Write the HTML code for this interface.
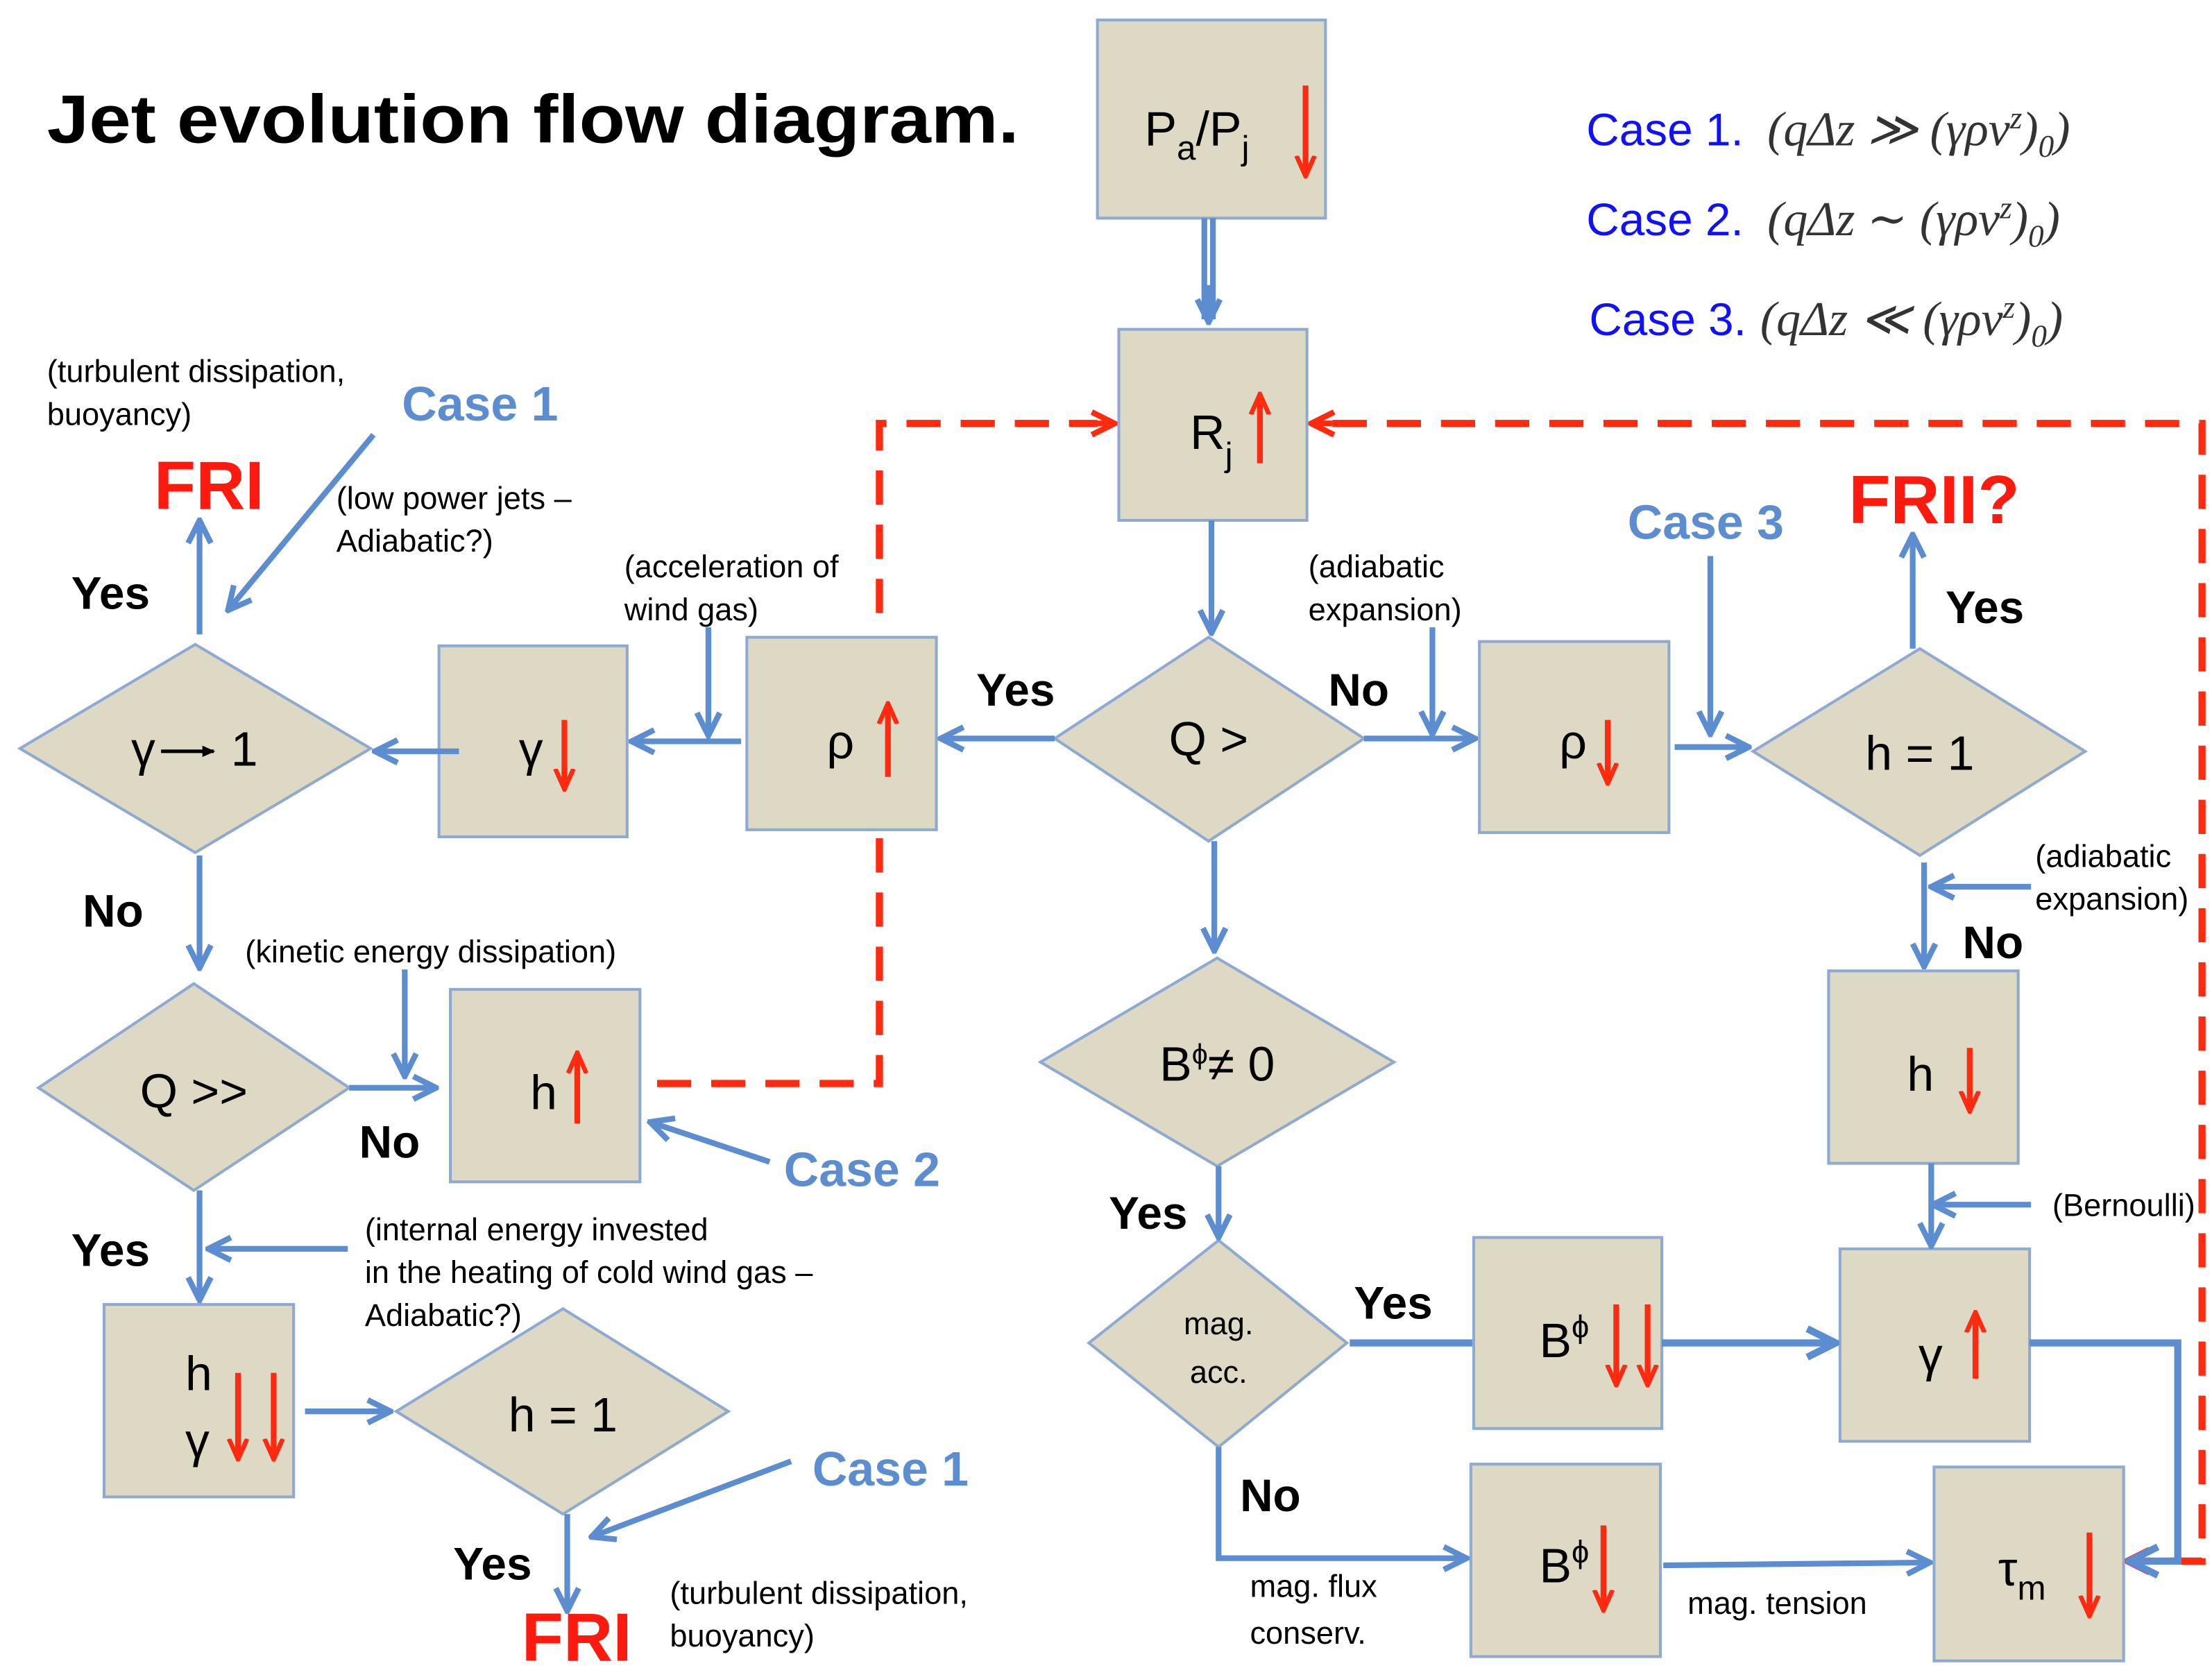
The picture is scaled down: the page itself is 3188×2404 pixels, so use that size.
<!DOCTYPE html>
<html><head><meta charset="utf-8"><style>
html,body{margin:0;padding:0;background:#fff}
svg{display:block}
text{font-family:"Liberation Sans","DejaVu Sans",sans-serif}
.bx{fill:#ddd9c4;stroke:#8eaad0;stroke-width:2}
.bl{stroke:#5b8dd0;stroke-width:4;fill:none}
.red{stroke:#ff2a10;stroke-width:4;fill:none}
.rd{stroke:#ff2a10;stroke-width:5;fill:none;stroke-dasharray:24 14}
.lab{font-size:34px;fill:#000}
.yn{font-size:32px;font-weight:bold;fill:#000}
.an{font-size:22px;fill:#000}
.cs{font-size:34px;font-weight:bold;fill:#5b8dd0}
.fr{font-size:48px;font-weight:bold;fill:#ff1a10}
.ct{font-size:32px;fill:#1010ff}
.mt{font-size:34px;fill:#333;font-family:"Liberation Serif","DejaVu Serif",serif;font-style:italic}
</style></head><body>
<svg width="3188" height="2404" viewBox="0 0 1552 1170" preserveAspectRatio="none" xmlns="http://www.w3.org/2000/svg">
<defs>
<marker id="a" viewBox="0 0 10 10" refX="9" refY="5" markerWidth="5" markerHeight="5" orient="auto" markerUnits="strokeWidth">
<path d="M1,1 L9,5 L1,9" fill="none" stroke="#5b8dd0" stroke-width="2"/></marker>
<marker id="r" viewBox="0 0 10 10" refX="8" refY="5" markerWidth="5" markerHeight="5" orient="auto" markerUnits="strokeWidth">
<path d="M1,1 L9,5 L1,9" fill="none" stroke="#ff2a10" stroke-width="2"/></marker>
<marker id="rr" viewBox="0 0 10 10" refX="8" refY="5" markerWidth="4" markerHeight="4" orient="auto" markerUnits="strokeWidth">
<path d="M0,1 L9,5 L0,9" fill="none" stroke="#ff2a10" stroke-width="2"/></marker>
<marker id="bk" viewBox="0 0 10 10" refX="8" refY="5" markerWidth="4" markerHeight="4" orient="auto" markerUnits="strokeWidth">
<path d="M0,1 L9,5 L0,9 Z" fill="#000"/></marker>
</defs>

<text x="33" y="100" style="font-size:48px;font-weight:bold" textLength="682" lengthAdjust="spacingAndGlyphs">Jet evolution flow diagram.</text>

<text class="ct" x="1113" y="102">Case 1.</text><text class="mt" x="1240" y="102">(qΔz ≫ (γρv<tspan dy="-12" font-size="22">z</tspan><tspan dy="12">)</tspan><tspan dy="8" font-size="22">0</tspan><tspan dy="-8">)</tspan></text>
<text class="ct" x="1113" y="165">Case 2.</text><text class="mt" x="1240" y="165">(qΔz ∼ (γρv<tspan dy="-12" font-size="22">z</tspan><tspan dy="12">)</tspan><tspan dy="8" font-size="22">0</tspan><tspan dy="-8">)</tspan></text>
<text class="ct" x="1115" y="235">Case 3.</text><text class="mt" x="1235" y="235">(qΔz ≪ (γρv<tspan dy="-12" font-size="22">z</tspan><tspan dy="12">)</tspan><tspan dy="8" font-size="22">0</tspan><tspan dy="-8">)</tspan></text>

<path class="rd" d="M617,430 V297 H770"/>
<path class="red" d="M760,297 H780" marker-end="url(#r)"/>
<path class="rd" d="M935,297 H1545 V1095 H1500"/>
<path class="red" d="M935,297 H922" marker-end="url(#r)"/>
<path class="red" d="M1505,1095 H1494" marker-end="url(#r)"/>
<path class="rd" d="M617,588 V760 H452"/>

<rect class="bx" x="770" y="14" width="160" height="139"/>
<rect class="bx" x="785" y="231" width="132" height="134"/>
<rect class="bx" x="524" y="447" width="133" height="135"/>
<rect class="bx" x="308" y="453" width="132" height="134"/>
<rect class="bx" x="316" y="694" width="133" height="135"/>
<rect class="bx" x="73" y="915" width="133" height="135"/>
<rect class="bx" x="1038" y="450" width="133" height="134"/>
<rect class="bx" x="1283" y="681" width="133" height="135"/>
<rect class="bx" x="1291" y="876" width="133" height="135"/>
<rect class="bx" x="1034" y="868" width="132" height="134"/>
<rect class="bx" x="1032" y="1027" width="133" height="135"/>
<rect class="bx" x="1357" y="1029" width="133" height="136"/>

<polygon class="bx" points="848,447 957,518 848,590 740,518"/>
<polygon class="bx" points="137,452 260,525 137,598 14,525"/>
<polygon class="bx" points="136,690 245,763 136,835 27,763"/>
<polygon class="bx" points="395,918 511,990 395,1062 278,990"/>
<polygon class="bx" points="1347,455 1463,527 1347,600 1230,527"/>
<polygon class="bx" points="854,672 978,745 854,818 730,745"/>
<polygon class="bx" points="855,870 945,942 855,1015 764,942"/>

<text class="lab" x="803" y="102">P<tspan dy="10" font-size="24">a</tspan><tspan dy="-10">/P</tspan><tspan dy="10" font-size="24">j</tspan></text>
<path class="red" d="M916,60 V122" marker-end="url(#rr)"/>
<text class="lab" x="835" y="315">R<tspan dy="12" font-size="24">j</tspan></text>
<path class="red" d="M884,325 V278" marker-end="url(#rr)"/>
<text class="lab" x="580" y="532">ρ</text><path class="red" d="M623,545 V495" marker-end="url(#rr)"/>
<text class="lab" x="364" y="537">γ</text><path class="red" d="M396,505 V552" marker-end="url(#rr)"/>
<text class="lab" x="372" y="778">h</text><path class="red" d="M405,788 V740" marker-end="url(#rr)"/>
<text class="lab" x="130" y="975">h</text><text class="lab" x="130" y="1022">γ</text>
<path class="red" d="M167,963 V1022" marker-end="url(#rr)"/><path class="red" d="M192,963 V1022" marker-end="url(#rr)"/>
<text class="lab" x="1094" y="532">ρ</text><path class="red" d="M1128,505 V548" marker-end="url(#rr)"/>
<text class="lab" x="1338" y="765">h</text><path class="red" d="M1382,735 V778" marker-end="url(#rr)"/>
<text class="lab" x="1346" y="962">γ</text><path class="red" d="M1386,967 V922" marker-end="url(#rr)"/>
<text class="lab" x="1080" y="952">B<tspan dy="-14" font-size="22">ϕ</tspan></text>
<path class="red" d="M1134,915 V970" marker-end="url(#rr)"/><path class="red" d="M1156,915 V970" marker-end="url(#rr)"/>
<text class="lab" x="1080" y="1110">B<tspan dy="-14" font-size="22">ϕ</tspan></text>
<path class="red" d="M1125,1070 V1128" marker-end="url(#rr)"/>
<text class="lab" x="1402" y="1112">τ<tspan dy="10" font-size="24">m</tspan></text>
<path class="red" d="M1466,1075 V1132" marker-end="url(#rr)"/>

<text class="lab" x="848" y="530" text-anchor="middle" font-size="30">Q &gt;</text>
<text class="lab" x="92" y="537" font-size="30">γ</text><path d="M113,527 H150" stroke="#000" stroke-width="2.5" marker-end="url(#bk)"/><text class="lab" x="162" y="537" font-size="30">1</text>
<text class="lab" x="136" y="777" text-anchor="middle" font-size="30">Q &gt;&gt;</text>
<text class="lab" x="395" y="1004" text-anchor="middle" font-size="30">h = 1</text>
<text class="lab" x="1347" y="540" text-anchor="middle" font-size="30">h = 1</text>
<text class="lab" x="854" y="758" text-anchor="middle" font-size="30">B<tspan dy="-12" font-size="20">ϕ</tspan><tspan dy="12">≠ 0</tspan></text>
<text class="an" x="855" y="936" text-anchor="middle" font-size="24">mag.</text>
<text class="an" x="855" y="970" text-anchor="middle" font-size="24">acc.</text>

<path class="bl" d="M845,153 V224 M851,153 V224"/>
<path class="bl" d="M848,200 V226" marker-end="url(#a)"/>
<path class="bl" d="M850,365 V444" marker-end="url(#a)"/>
<path class="bl" d="M740,518 H660" marker-end="url(#a)"/>
<path class="bl" d="M520,520 H443" marker-end="url(#a)"/>
<path class="bl" d="M497,440 V516" marker-end="url(#a)"/>
<path class="bl" d="M322,527 H263" marker-end="url(#a)"/>
<path class="bl" d="M140,445 V365" marker-end="url(#a)"/>
<path class="bl" d="M262,305 L160,428" marker-end="url(#a)"/>
<path class="bl" d="M140,600 V679" marker-end="url(#a)"/>
<path class="bl" d="M245,763 H306" marker-end="url(#a)"/>
<path class="bl" d="M284,680 V755" marker-end="url(#a)"/>
<path class="bl" d="M540,815 L456,787" marker-end="url(#a)"/>
<path class="bl" d="M140,835 V912" marker-end="url(#a)"/>
<path class="bl" d="M244,876 H146" marker-end="url(#a)"/>
<path class="bl" d="M214,990 H274" marker-end="url(#a)"/>
<path class="bl" d="M398,1062 V1130" marker-end="url(#a)"/>
<path class="bl" d="M555,1025 L415,1078" marker-end="url(#a)"/>
<path class="bl" d="M957,518 H1035" marker-end="url(#a)"/>
<path class="bl" d="M1005,440 V515" marker-end="url(#a)"/>
<path class="bl" d="M1175,524 H1227" marker-end="url(#a)"/>
<path class="bl" d="M1200,390 V515" marker-end="url(#a)"/>
<path class="bl" d="M1342,455 V375" marker-end="url(#a)"/>
<path class="bl" d="M1350,605 V678" marker-end="url(#a)"/>
<path class="bl" d="M1425,622 H1355" marker-end="url(#a)"/>
<path class="bl" d="M1355,816 V874" marker-end="url(#a)"/>
<path class="bl" d="M1425,845 H1356" marker-end="url(#a)"/>
<path class="bl" d="M852,590 V667" marker-end="url(#a)"/>
<path class="bl" d="M855,818 V868" marker-end="url(#a)"/>
<path class="bl" style="stroke-width:5" d="M947,942 H1033"/>
<path class="bl" style="stroke-width:5" d="M1166,942 H1288" marker-end="url(#a)"/>
<path class="bl" style="stroke-width:5" d="M1424,942 H1528 V1095 H1494" marker-end="url(#a)"/>
<path class="bl" d="M855,1015 V1093 H1029" marker-end="url(#a)"/>
<path class="bl" d="M1167,1098 L1354,1096" marker-end="url(#a)"/>

<text class="yn" x="685" y="495">Yes</text>
<text class="yn" x="50" y="427">Yes</text>
<text class="yn" x="58" y="650">No</text>
<text class="yn" x="252" y="812">No</text>
<text class="yn" x="50" y="888">Yes</text>
<text class="yn" x="318" y="1108">Yes</text>
<text class="yn" x="932" y="495">No</text>
<text class="yn" x="1365" y="437">Yes</text>
<text class="yn" x="1377" y="672">No</text>
<text class="yn" x="778" y="862">Yes</text>
<text class="yn" x="950" y="925">Yes</text>
<text class="yn" x="870" y="1060">No</text>

<text class="fr" x="108" y="357">FRI</text>
<text class="fr" x="366" y="1165">FRI</text>
<text class="fr" x="1297" y="367">FRII?</text>
<text class="cs" x="282" y="295">Case 1</text>
<text class="cs" x="550" y="832">Case 2</text>
<text class="cs" x="570" y="1042">Case 1</text>
<text class="cs" x="1142" y="378">Case 3</text>

<text class="an" x="33" y="268">(turbulent dissipation,</text>
<text class="an" x="33" y="298">buoyancy)</text>
<text class="an" x="236" y="357">(low power jets –</text>
<text class="an" x="236" y="387">Adiabatic?)</text>
<text class="an" x="438" y="405">(acceleration of</text>
<text class="an" x="438" y="435">wind gas)</text>
<text class="an" x="172" y="675">(kinetic energy dissipation)</text>
<text class="an" x="256" y="870">(internal energy invested</text>
<text class="an" x="256" y="900">in the heating of cold wind gas –</text>
<text class="an" x="256" y="930">Adiabatic?)</text>
<text class="an" x="470" y="1125">(turbulent dissipation,</text>
<text class="an" x="470" y="1155">buoyancy)</text>
<text class="an" x="918" y="405">(adiabatic</text>
<text class="an" x="918" y="435">expansion)</text>
<text class="an" x="1428" y="608">(adiabatic</text>
<text class="an" x="1428" y="638">expansion)</text>
<text class="an" x="1440" y="853">(Bernoulli)</text>
<text class="an" x="877" y="1120" font-size="24">mag. flux</text>
<text class="an" x="877" y="1153" font-size="24">conserv.</text>
<text class="an" x="1184" y="1132" font-size="24">mag. tension</text>
</svg>
</body></html>
